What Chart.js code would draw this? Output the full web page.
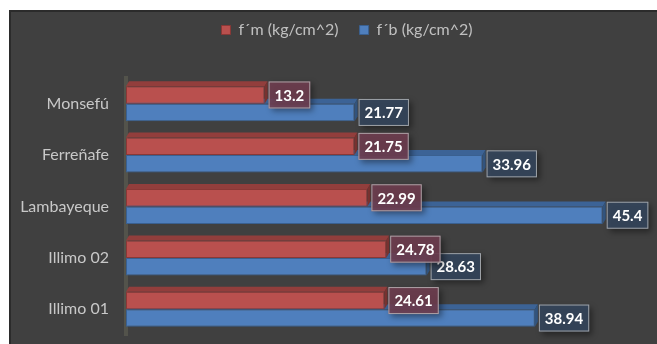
<!DOCTYPE html>
<html>
<head>
<meta charset="utf-8">
<script src="https://cdn.jsdelivr.net/npm/chart.js@4.4.0/dist/chart.umd.min.js"></script>
<style>
html, body { margin: 0; padding: 0; background: #fff; }
</style>
</head>
<body>
<canvas id="chart" width="657" height="344"></canvas>
<script>
const categories = ["Monsefú", "Ferreñafe", "Lambayeque", "Illimo 02", "Illimo 01"];
const fmValues = [13.2, 21.75, 22.99, 24.78, 24.61];
const fbValues = [21.77, 33.96, 45.4, 28.63, 38.94];
const seriesNames = ["f´m (kg/cm^2)", "f´b (kg/cm^2)"];

const FONT = "Lato";
const front = ["#b9504e", "#4f7fbd"];
const edge = ["#8a3836", "#3a6090"];
const topFace = ["#923e3c", "#3c6396"];
const sideFace = ["#7a3331", "#33557f"];
const labelFill = ["rgba(112,62,80,0.88)", "rgba(52,68,90,0.92)"];
const DX = 3, DY = -5;

// dark panel behind the chart
const panel = {
    id: "panel",
    beforeDraw(chart) {
        const ctx = chart.ctx;
        ctx.save();
        ctx.fillStyle = "#ffffff";
        ctx.fillRect(0, 0, chart.width, chart.height);
        ctx.fillStyle = "#404040";
        ctx.fillRect(9, 10, chart.width - 9, chart.height - 10);
        ctx.strokeStyle = "#2b2b2b";
        ctx.lineWidth = 2;
        ctx.beginPath();
        ctx.moveTo(10, chart.height);
        ctx.lineTo(10, 11);
        ctx.lineTo(chart.width, 11);
        ctx.stroke();
        ctx.restore();
    }
};

// room between legend and bars, legend nudged right
const legendSpace = {
    id: "legendSpace",
    beforeInit(chart) {
        const fit = chart.legend.fit;
        chart.legend.fit = function () {
            fit.bind(chart.legend)();
            this.height = 77;
        };
    },
    afterLayout(chart) {
        chart.legend.left += 34;
    }
};

// fake 3d: top and end faces of each bar
const depth = {
    id: "depth",
    afterDatasetDraw(chart, args) {
        const ctx = chart.ctx;
        const i = args.index;
        ctx.save();
        args.meta.data.forEach(el => {
            const { x, y, base, height } = el.getProps(["x", "y", "base", "height"], true);
            const top = y - height / 2;
            const bottom = y + height / 2;
            ctx.fillStyle = topFace[i];
            ctx.beginPath();
            ctx.moveTo(base, top);
            ctx.lineTo(base + DX, top + DY);
            ctx.lineTo(x + DX, top + DY);
            ctx.lineTo(x, top);
            ctx.closePath();
            ctx.fill();
            ctx.fillStyle = sideFace[i];
            ctx.beginPath();
            ctx.moveTo(x, top);
            ctx.lineTo(x + DX, top + DY);
            ctx.lineTo(x + DX, bottom + DY);
            ctx.lineTo(x, bottom);
            ctx.closePath();
            ctx.fill();
        });
        ctx.restore();
    }
};

// value boxes at the end of each bar
const valueLabels = {
    id: "valueLabels",
    afterDatasetsDraw(chart) {
        const ctx = chart.ctx;
        ctx.save();
        ctx.font = "bold 15px " + FONT;
        ctx.textAlign = "center";
        ctx.textBaseline = "middle";
        [1, 0].forEach(i => {
            const meta = chart.getDatasetMeta(i);
            meta.data.forEach((el, j) => {
                const txt = String(chart.data.datasets[i].data[j]);
                const w = ctx.measureText(txt).width + 12;
                const h = 27;
                const left = el.x + DX + 1;
                const top = el.y - h / 2;
                ctx.shadowColor = "rgba(0,0,0,0.45)";
                ctx.shadowBlur = 6;
                ctx.shadowOffsetX = 3;
                ctx.shadowOffsetY = 3;
                ctx.fillStyle = labelFill[i];
                ctx.fillRect(left, top, w, h);
                ctx.shadowColor = "transparent";
                ctx.strokeStyle = "rgba(195,195,195,0.75)";
                ctx.lineWidth = 1;
                ctx.strokeRect(left + 0.5, top + 0.5, w - 1, h - 1);
                ctx.fillStyle = "#ffffff";
                ctx.fillText(txt, left + w / 2, el.y + 1);
            });
        });
        ctx.restore();
    }
};

new Chart(document.getElementById("chart"), {
    type: "bar",
    data: {
        labels: categories,
        datasets: [
            {
                label: seriesNames[0],
                data: fmValues,
                backgroundColor: front[0],
                borderColor: edge[0],
                borderWidth: 1,
                borderSkipped: false
            },
            {
                label: seriesNames[1],
                data: fbValues,
                backgroundColor: front[1],
                borderColor: edge[1],
                borderWidth: 1,
                borderSkipped: false
            }
        ]
    },
    options: {
        indexAxis: "y",
        responsive: false,
        animation: false,
        devicePixelRatio: 1,
        categoryPercentage: 0.68,
        barPercentage: 1,
        layout: {
            padding: { left: 9, right: 6, top: 1, bottom: 9 }
        },
        scales: {
            x: {
                display: false,
                min: 0,
                max: 50
            },
            y: {
                grid: { display: false },
                border: { display: true, color: "#53534b", width: 4 },
                ticks: {
                    color: "#c8c8c8",
                    padding: 9,
                    font: { family: FONT, size: 16 }
                },
                afterFit(scale) {
                    scale.width = 117;
                    scale.paddingTop = 0;
                    scale.paddingBottom = 0;
                }
            }
        },
        plugins: {
            legend: {
                position: "top",
                labels: {
                    color: "#c0c0c0",
                    boxWidth: 9,
                    boxHeight: 9,
                    padding: 21,
                    font: { family: FONT, size: 16 }
                }
            },
            tooltip: { enabled: false }
        }
    },
    plugins: [panel, legendSpace, depth, valueLabels]
});
</script>
</body>
</html>
